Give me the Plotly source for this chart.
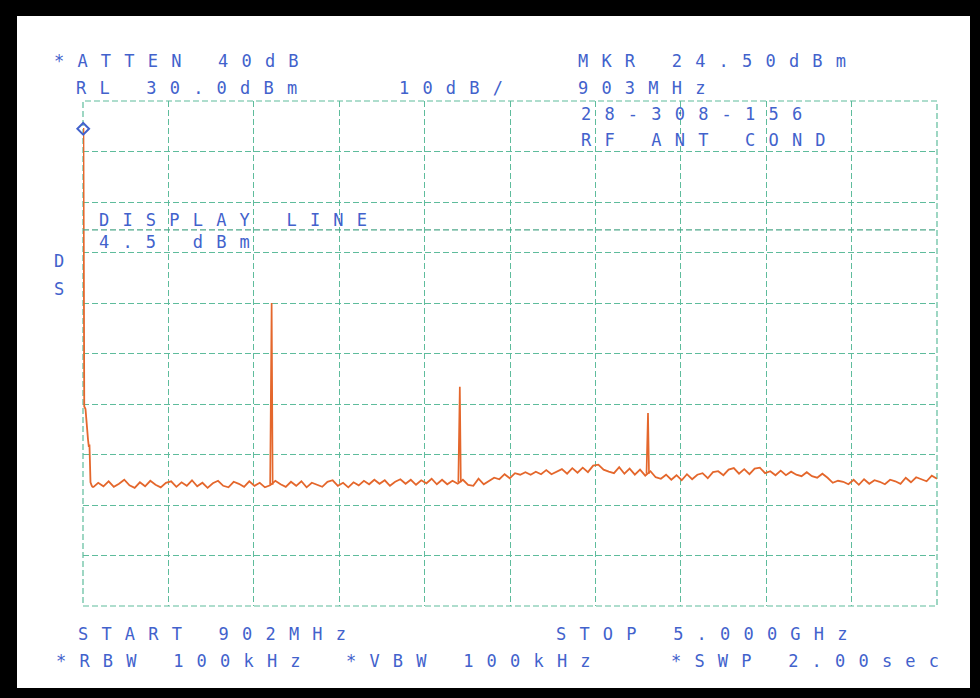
import numpy as np
import plotly.graph_objects as go

# Sweep settings (MHz / dBm)
START_MHZ = 902
STOP_MHZ = 5000
REF_LEVEL = 30.0
DB_PER_DIV = 10
MARKER_FREQ = 903
MARKER_LEVEL = 24.5
DISPLAY_LINE = 4.5

# Carrier skirt at the start of the sweep
carrier_freq = [902, 904, 908, 914, 926, 930, 933, 938, 944, 950]
carrier_level = [24.5, 24.5, -30.5, -31.0, -37.0, -38.5, -38.0, -45.5, -46.2, -46.5]

# Noise floor, one reading every 25 MHz from 950 MHz to 5000 MHz
noise_step = 25
noise_level = [
    -46.5, -45.6, -46.3, -45.3, -46.4, -45.8, -45.0, -46.1, -46.6, -45.5,
    -46.3, -45.2, -46.0, -46.5, -45.6, -45.3, -46.4, -45.5, -46.2, -45.1,
    -46.3, -45.6, -46.6, -45.7, -45.2, -46.2, -46.5, -45.4, -45.8, -46.4,
    -45.3, -46.2, -45.6, -46.5, -46.1, -45.2, -45.9, -46.4, -45.4, -46.2,
    -45.3, -46.5, -45.6, -46.0, -46.4, -45.4, -45.1, -46.2, -45.6, -46.5,
    -45.5, -46.1, -45.2, -45.9, -45.0, -45.8, -45.1, -46.2, -45.4, -44.9,
    -45.8, -45.0, -46.0, -45.1, -45.7, -44.8, -45.9, -45.0, -45.9, -45.2,
    -45.8, -45.0, -46.0, -46.2, -44.8, -45.9, -45.3, -44.6, -44.9, -43.9,
    -44.7, -43.7, -44.0, -43.5, -44.0, -43.4, -43.9, -43.1, -43.9, -43.4,
    -42.9, -43.8, -42.7, -43.6, -42.6, -43.5, -42.2, -42.0, -43.0, -43.4,
    -43.7, -42.5, -43.8, -42.8, -44.0, -43.0, -44.2, -43.3, -44.5, -44.8,
    -44.0, -45.0, -44.1, -45.1, -43.9, -44.9, -44.0, -43.7, -44.7, -43.5,
    -43.3, -44.1, -43.0, -42.7, -43.8, -42.9, -43.9, -42.8, -42.6, -43.7,
    -43.3, -44.1, -43.2, -44.1, -43.4, -44.0, -44.3, -43.5, -44.3, -44.6,
    -43.8, -44.6, -45.6, -45.2, -45.4, -45.9, -45.0, -46.0, -44.9, -45.8,
    -45.1, -45.4, -45.9, -45.0, -45.3, -45.8, -44.6, -45.5, -44.5, -44.9,
    -45.3, -44.2, -44.8,
]
noise_freq = 950 + noise_step * np.arange(len(noise_level))

# Harmonics of the 903 MHz carrier
harmonic_freq = [1806, 2709, 3612]
harmonic_peak = [-10.0, -26.6, -31.8]
harmonic_base = [-46.0, -45.5, -43.8]

# Screen annotations: (text, left px, middle px)
header_left = [("*ATTEN 40dB", 53, 61), ("RL 30.0dBm", 75, 88), ("10dB/", 398, 88)]
header_right = [("MKR 24.50dBm", 577, 61), ("903MHz", 577, 88),
                ("28-308-156", 580, 114), ("RF ANT COND", 580, 140)]
display_text = [("DISPLAY LINE", 98, 220), ("4.5 dBm", 98, 242), ("D", 53, 261), ("S", 53, 289)]
footer_text = [("START 902MHz", 77, 634), ("STOP 5.000GHz", 555, 634),
               ("*RBW 100kHz", 55, 661), ("*VBW 100kHz", 345, 661), ("*SWP 2.00sec", 670, 661)]

W, H = 980, 698
ML, MR, MT, MB = 83, 43, 101, 92
PW, PH = W - ML - MR, H - MT - MB

TRACE = "#E4672C"
GRID = "#5EBC9C"
INK = "#4262CC"
FONT = "DejaVu Sans Mono"


def to_paper(xp, yp):
    return (xp - ML) / PW, (H - MB - yp) / PH


fig = go.Figure()

# Spectrum trace
fig.add_trace(go.Scatter(x=carrier_freq, y=carrier_level, mode="lines",
                         line=dict(color=TRACE, width=1.8), hoverinfo="skip"))
fig.add_trace(go.Scatter(x=noise_freq, y=noise_level, mode="lines",
                         line=dict(color=TRACE, width=1.8), hoverinfo="skip"))
for f, pk, base in zip(harmonic_freq, harmonic_peak, harmonic_base):
    fig.add_trace(go.Scatter(x=[f - 6, f - 1.2, f + 1.2, f + 6], y=[base, pk, pk, base],
                             mode="lines", line=dict(color=TRACE, width=1.7), hoverinfo="skip"))

# Display line
fig.add_trace(go.Scatter(x=[START_MHZ, STOP_MHZ], y=[DISPLAY_LINE, DISPLAY_LINE], mode="lines",
                         line=dict(color="#4FA88A", width=1.2, dash="6px,3px"), hoverinfo="skip"))

# Marker
fig.add_trace(go.Scatter(x=[MARKER_FREQ], y=[MARKER_LEVEL], mode="markers",
                         marker=dict(symbol="diamond-open", size=9, color=INK,
                                     line=dict(width=2, color=INK)),
                         hoverinfo="skip", cliponaxis=False))

# Paper area inside the black frame
x0, y0 = to_paper(17, 688)
x1, y1 = to_paper(970, 16)
fig.add_shape(type="rect", xref="paper", yref="paper", x0=x0, y0=y0, x1=x1, y1=y1,
              fillcolor="white", line=dict(width=0), layer="below")
# Graticule border
fig.add_shape(type="rect", xref="x domain", yref="y domain", x0=0, y0=0, x1=1, y1=1,
              line=dict(color=GRID, width=1.2, dash="6px,3px"), layer="below")


def add_labels(items):
    for text, xp, yp in items:
        xa, ya = to_paper(xp, yp)
        fig.add_annotation(
            text=f'<span style="letter-spacing:13.2px">{text}</span>',
            xref="paper", yref="paper", x=xa, y=ya, xanchor="left", yanchor="middle",
            showarrow=False, borderpad=0, font=dict(family=FONT, size=17, color=INK))


for group in (header_left, header_right, display_text, footer_text):
    add_labels(group)

fig.update_xaxes(range=[START_MHZ, STOP_MHZ], showgrid=True, gridcolor=GRID, gridwidth=1.2,
                 griddash="6px,3px", tick0=START_MHZ, dtick=(STOP_MHZ - START_MHZ) / 10,
                 showticklabels=False, ticks="", zeroline=False, showline=False)
fig.update_yaxes(range=[REF_LEVEL - 10 * DB_PER_DIV, REF_LEVEL], showgrid=True, gridcolor=GRID,
                 gridwidth=1.2, griddash="6px,3px", tick0=REF_LEVEL, dtick=DB_PER_DIV,
                 showticklabels=False, ticks="", zeroline=False, showline=False)

fig.update_layout(width=W, height=H, margin=dict(l=ML, r=MR, t=MT, b=MB),
                  paper_bgcolor="black", plot_bgcolor="white", showlegend=False)

fig.write_html("out.html")
